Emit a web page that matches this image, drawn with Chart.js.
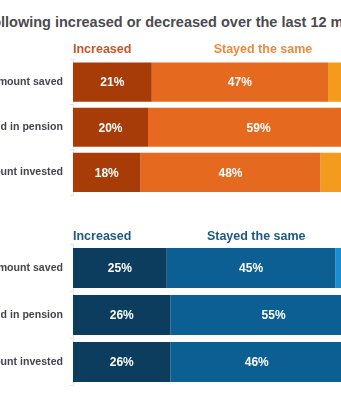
<!DOCTYPE html>
<html>
<head>
<meta charset="utf-8">
<script src="https://cdn.jsdelivr.net/npm/chart.js@4/dist/chart.umd.min.js"></script>
<style>
  html, body { margin: 0; padding: 0; background: #fff; }
  body { width: 341px; height: 400px; overflow: hidden; position: relative; font-family: "Liberation Sans", Arial, sans-serif; }
  #title { position: absolute; left: 1px; top: 14px; line-height: 16px; font-size: 14.5px; font-weight: bold; color: #4b4b50; white-space: nowrap; }
  #title .pre { position: absolute; right: 100%; top: 0; }
  .wrap { position: absolute; left: -90px; width: 545px; }
  #w1 { top: 40px; height: 160px; }
  #w2 { top: 225px; height: 170px; }
</style>
</head>
<body>
<div id="title"><span class="pre">Whether the fo</span>llowing increased or decreased over the last 12 months</div>
<div class="wrap" id="w1"><canvas id="c1"></canvas></div>
<div class="wrap" id="w2"><canvas id="c2"></canvas></div>
<script>
const categories = ["Amount saved", "Amount paid in pension", "Amount invested"];
const seriesNames = ["Increased", "Stayed the same", "Decreased"];

// Top panel (orange)
const orangeIncreased = [21, 20, 18];
const orangeSame = [47, 59, 48];
const orangeDecreased = [32, 21, 34];

// Bottom panel (blue)
const blueIncreased = [25, 26, 26];
const blueSame = [45, 55, 46];
const blueDecreased = [30, 19, 28];

const orangeColors = ["#A83C08", "#E5691F", "#F49B1E"];
const blueColors = ["#0C3D5E", "#0B5F92", "#1A8FCF"];
const orangeHeaderColors = ["#C4552A", "#EE8A3E"];
const blueHeaderColors = ["#1D5A80", "#1D5A80"];

const headerPlugin = {
  id: 'headers',
  afterDraw(chart, args, opts) {
    const ctx = chart.ctx;
    const xs = chart.scales.x;
    ctx.save();
    ctx.font = 'bold 12.5px "Liberation Sans", Arial, sans-serif';
    ctx.textBaseline = 'middle';
    opts.items.forEach((it, i) => {
      ctx.fillStyle = opts.colors[i];
      ctx.textAlign = it.align;
      ctx.fillText(it.text, xs.getPixelForValue(it.at), chart.chartArea.top - opts.offset);
    });
    ctx.restore();
  }
};

const valueLabels = {
  id: 'valueLabels',
  afterDatasetsDraw(chart) {
    const ctx = chart.ctx;
    ctx.save();
    ctx.font = 'bold 12px "Liberation Sans", Arial, sans-serif';
    ctx.fillStyle = '#ffffff';
    ctx.textAlign = 'center';
    ctx.textBaseline = 'middle';
    chart.data.datasets.forEach((ds, di) => {
      const meta = chart.getDatasetMeta(di);
      meta.data.forEach((bar, i) => {
        const x = (bar.x + bar.base) / 2;
        ctx.fillText(ds.data[i] + '%', x, bar.y + 1);
      });
    });
    ctx.restore();
  }
};

function makeChart(id, vals, colors, headerColors, pad, catPct, headerOffset, headerItems) {
  return new Chart(document.getElementById(id), {
    type: 'bar',
    data: {
      labels: categories,
      datasets: vals.map((v, i) => ({
        label: seriesNames[i],
        data: v,
        backgroundColor: colors[i],
        borderWidth: 0,
        categoryPercentage: catPct,
        barPercentage: 1
      }))
    },
    options: {
      indexAxis: 'y',
      responsive: true,
      maintainAspectRatio: false,
      animation: false,
      layout: { padding: { top: pad[0], bottom: pad[1], left: 0, right: 7 } },
      plugins: {
        legend: { display: false },
        tooltip: { enabled: false },
        headers: { items: headerItems, colors: headerColors, offset: headerOffset }
      },
      scales: {
        x: { stacked: true, min: 0, max: 100, display: false },
        y: {
          stacked: true,
          afterFit(scale) { scale.width = 163; scale.paddingTop = 0; scale.paddingBottom = 0; },
          border: { display: true, color: '#e6e6e6', width: 1 },
          grid: { display: true, offset: true, drawOnChartArea: false, tickLength: 3, color: '#e6e6e6' },
          ticks: {
            color: '#45454f',
            padding: 7,
            font: { family: '"Liberation Sans", Arial, sans-serif', size: 10.6, weight: 'bold' }
          }
        }
      }
    },
    plugins: [headerPlugin, valueLabels]
  });
}

makeChart('c1', [orangeIncreased, orangeSame, orangeDecreased], orangeColors, orangeHeaderColors,
  [19.5, 5], 0.867, 9.5,
  [{ text: 'Increased', at: 0, align: 'left' }, { text: 'Stayed the same', at: 37.5, align: 'left' }]);

makeChart('c2', [blueIncreased, blueSame, blueDecreased], blueColors, blueHeaderColors,
  [19.5, 9.5], 0.85, 7.5,
  [{ text: 'Increased', at: 0, align: 'left' }, { text: 'Stayed the same', at: 35.7, align: 'left' }]);
</script>
</body>
</html>
